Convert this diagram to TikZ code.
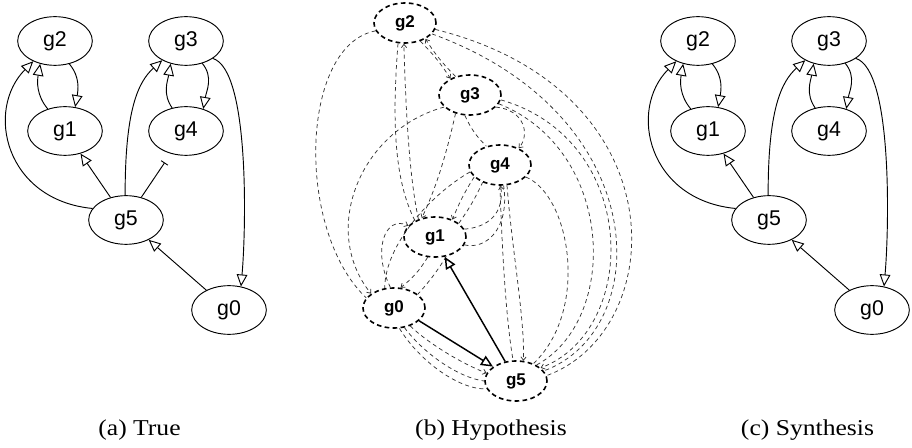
\documentclass[tikz,border=0pt]{standalone}
\usepackage{fontspec}
\setmainfont{Liberation Serif}
\setsansfont{Liberation Sans}
\newfontfamily\capfont[FakeStretch=1.13]{Liberation Serif}
\usetikzlibrary{shapes.geometric,arrows.meta}

\tikzset{
  gene/.style={ellipse, draw, line width=0.7pt, minimum width=56pt, minimum height=36.5pt,
    inner sep=0pt, font=\sffamily\fontsize{16}{16}\selectfont},
  link/.style={line width=0.7pt, -{Triangle[open,length=9pt,width=8pt]}},
  inhib/.style={line width=0.7pt, -{Bar[width=6pt,line width=0.7pt]}, shorten >=8pt},
  hgene/.style={ellipse, draw, line width=1.2pt, dash pattern=on 3.5pt off 2.5pt,
    minimum width=46.5pt, minimum height=30pt, inner sep=0pt,
    font=\sffamily\bfseries\fontsize{12.75}{13}\selectfont},
  cand/.style={line width=0.55pt, dash pattern=on 3pt off 2.5pt, black!80},
  tip/.style={-{Straight Barb[length=2.5pt,width=4pt]}},
  chosen/.style={line width=1.1pt, -{Triangle[open,length=9pt,width=8pt]}},
  subcap/.style={font=\capfont\fontsize{17}{17}\selectfont, anchor=base}
}

% one gene regulatory network; #1 is the prefix of its node names
\newcommand{\grnpanel}[1]{%
  \node[gene] (#1g2) at (55,41)   {g2};
  \node[gene] (#1g3) at (186,41)  {g3};
  \node[gene] (#1g1) at (65,131)  {g1};
  \node[gene] (#1g4) at (186,131) {g4};
  \node[gene] (#1g5) at (126,220) {g5};
  \node[gene] (#1g0) at (229,310) {g0};
  \draw[link] (#1g1.128) to[out=130,in=-100] (#1g2.237);
  \draw[link] (#1g2.-58) to[out=-50,in=80] (#1g1.67);
  \draw[link] (#1g5.161) .. controls (5,200) and (-15,110) .. (#1g2.223);
  \draw[link] (#1g5) -- (#1g1);
  \draw[link] (#1g5.92) .. controls (125,110) and (138,82) .. (#1g3.219);
  \draw[link] (#1g4.121) to[out=125,in=-100] (#1g3.236);
  \draw[link] (#1g3.-54) to[out=-50,in=80] (#1g4.52);
  \draw[link] (#1g3.-33) .. controls (250,70) and (246,230) .. (#1g0.63);
  \draw[link] (#1g0) -- (#1g5);
}

\begin{document}
\begin{tikzpicture}[x=0.75pt,y=-0.75pt]
\useasboundingbox (0,0) rectangle (912,448);

% (a) true network
\grnpanel{a}
\draw[inhib] (ag5) -- (ag4);

% (c) synthesised network
\begin{scope}[shift={(643,0)}]
  \grnpanel{c}
\end{scope}

% (b) hypothesis network
\node[hgene] (h2) at (405,23)  {g2};
\node[hgene] (h3) at (470,95)  {g3};
\node[hgene] (h4) at (500,165) {g4};
\node[hgene] (h1) at (435,237) {g1};
\node[hgene] (h0) at (394,308) {g0};
\node[hgene] (h5) at (516,381) {g5};

% candidate interactions
\draw[cand] (h2.195) .. controls (300,45) and (295,230) .. (h0.160);
\draw[cand,tip] (h3.205) .. controls (360,130) and (320,230) .. (h0.148);
\draw[cand] (h2.251) .. controls (392,120) and (394,180) .. (h1.141);
\draw[cand,tip] (h1.133) .. controls (410,180) and (406,120) .. (h2.267);
\draw[cand,tip] (h2.-50) to[bend left=6] (h3.140);
\draw[cand,tip] (h3.128) to[bend left=6] (h2.-38);
\draw[cand] (h2.-12) .. controls (680,90) and (670,330) .. (h5.10);
\draw[cand] (h2.-22) .. controls (655,115) and (655,330) .. (h5.20);
\draw[cand,tip] (h3.-9) .. controls (640,140) and (640,330) .. (h5.28);
\draw[cand] (h3.-17) .. controls (615,150) and (620,320) .. (h5.38);
\draw[cand,tip] (h3.-25) .. controls (525,110) and (530,135) .. (h4.42);
\draw[cand] (h3.256) to[bend right=10] (h4.126);
\draw[cand,tip] (h3.232) .. controls (445,160) and (435,190) .. (h1.125);
\draw[cand] (h4.193) .. controls (430,195) and (385,245) .. (h0.115);
\draw[cand,tip] (h4.205) to[bend right=5] (h1.45);
\draw[cand] (h1.30) to[bend right=5] (h4.225);
\draw[cand] (h4.270) .. controls (502,250) and (506,320) .. (h5.98);
\draw[cand,tip] (h4.-71) .. controls (512,250) and (525,320) .. (h5.70);
\draw[cand] (h4.-25) .. controls (570,195) and (590,310) .. (h5.45);
\draw[cand,tip] (h1.15) .. controls (480,228) and (505,220) .. (h4.-88);
\draw[cand] (h1.-15) .. controls (485,250) and (510,230) .. (h4.-80);
\draw[cand,tip] (h1.250) to[bend left=10] (h0.72);
\draw[cand] (h1.-60) to[bend left=5] (h0.30);
\draw[cand,tip] (h0.100) .. controls (372,250) and (385,215) .. (h1.157);
\draw[cand,tip] (h0.-48) .. controls (430,345) and (465,365) .. (h5.165);
\draw[cand] (h0.-62) .. controls (425,355) and (460,378) .. (h5.180);
\draw[cand] (h0.-75) .. controls (420,362) and (460,390) .. (h5.195);

% selected interactions
\draw[chosen] (h0.-27) -- (h5.148);
\draw[chosen] (h5.119) -- (h1.-64);

% sub-captions
\node[subcap] (capa) at (139.5,435) {(a) True};
\node[subcap] (capb) at (491,435) {(b) Hypothesis};
\node[subcap] (capc) at (807.5,435) {(c) Synthesis};
\end{tikzpicture}
\end{document}
